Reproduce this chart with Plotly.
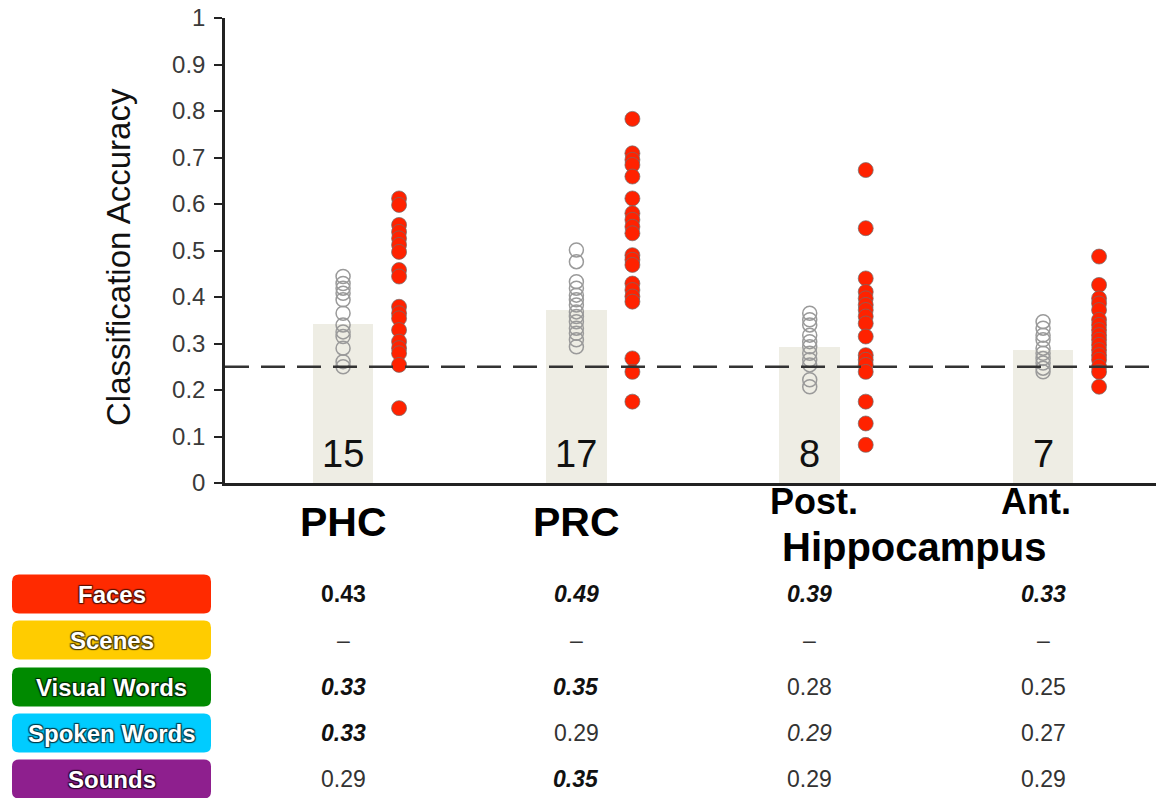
import plotly.graph_objects as go

# ---------------- data ----------------
regions = ["PHC", "PRC", "Post. Hippocampus", "Ant. Hippocampus"]
bar_means = [0.343, 0.371, 0.293, 0.285]
bar_counts = ["15", "17", "8", "7"]

gray_phc = [0.444, 0.429, 0.419, 0.408, 0.394, 0.365, 0.340, 0.325, 0.315, 0.290, 0.261, 0.250]
gray_prc = [0.501, 0.476, 0.433, 0.419, 0.404, 0.394, 0.383, 0.368, 0.358, 0.347, 0.333, 0.322, 0.308, 0.293]
gray_post = [0.365, 0.351, 0.340, 0.318, 0.304, 0.293, 0.279, 0.265, 0.254, 0.222, 0.207]
gray_ant = [0.347, 0.333, 0.318, 0.308, 0.290, 0.279, 0.268, 0.258, 0.247, 0.239]

red_phc = [0.612, 0.598, 0.555, 0.540, 0.526, 0.512, 0.497, 0.458, 0.444, 0.379, 0.365, 0.354,
           0.329, 0.304, 0.290, 0.279, 0.254, 0.161]
red_prc = [0.783, 0.709, 0.695, 0.684, 0.659, 0.612, 0.580, 0.566, 0.551, 0.537, 0.490, 0.480,
           0.469, 0.429, 0.415, 0.401, 0.390, 0.268, 0.239, 0.175]
red_post = [0.673, 0.548, 0.440, 0.411, 0.397, 0.383, 0.372, 0.358, 0.343, 0.315, 0.275, 0.265,
            0.254, 0.239, 0.175, 0.128, 0.082]
red_ant = [0.487, 0.426, 0.397, 0.386, 0.372, 0.351, 0.340, 0.329, 0.318, 0.308, 0.297, 0.286,
           0.275, 0.265, 0.250, 0.239, 0.207]

chance_level = 0.25
y_ticks = [0, 0.1, 0.2, 0.3, 0.4, 0.5, 0.6, 0.7, 0.8, 0.9, 1]
y_tick_labels = ["0", "0.1", "0.2", "0.3", "0.4", "0.5", "0.6", "0.7", "0.8", "0.9", "1"]

table_rows = ["Faces", "Scenes", "Visual Words", "Spoken Words", "Sounds"]
row_colors = ["#FF2A00", "#FFCC00", "#008A00", "#00CCFF", "#8E1F8E"]
row_outline = ["#5a1000", "#4e3e00", "#002a00", "#003e4c", "#2d062d"]
table_values = [
    ["0.43", "0.49", "0.39", "0.33"],
    ["–", "–", "–", "–"],
    ["0.33", "0.35", "0.28", "0.25"],
    ["0.33", "0.29", "0.29", "0.27"],
    ["0.29", "0.35", "0.29", "0.29"],
]
# style: "b" bold, "bi" bold italic, "i" italic, "" normal
table_styles = [
    ["b", "bi", "bi", "bi"],
    ["", "", "", ""],
    ["bi", "bi", "", ""],
    ["bi", "", "i", ""],
    ["", "bi", "", ""],
]

# ---------------- layout geometry (pixels) ----------------
W, H = 1156, 798
L, R, T, B = 225, 0, 18, 315
PW, PH = W - L - R, H - T - B
FONT = "Arial, Liberation Sans, sans-serif"


def px_x(p):
    return (p - L) / PW


def px_y(p):
    return (H - B - p) / PH


xs = [0, 1, 2, 3]
red_off = 0.24

fig = go.Figure()
fig.add_trace(go.Bar(x=xs, y=bar_means, width=0.26, marker=dict(color="#EEEDE4", line=dict(width=0)),
                     showlegend=False, hoverinfo="skip"))

grays = [gray_phc, gray_prc, gray_post, gray_ant]
reds = [red_phc, red_prc, red_post, red_ant]
for i in range(4):
    fig.add_trace(go.Scatter(x=[xs[i]] * len(grays[i]), y=grays[i], mode="markers",
                             marker=dict(size=14, color="rgba(255,255,255,0)",
                                         line=dict(color="#9a9a9a", width=1.5)),
                             showlegend=False))
    fig.add_trace(go.Scatter(x=[xs[i] + red_off] * len(reds[i]), y=reds[i], mode="markers",
                             marker=dict(size=15, color="#FF2200",
                                         line=dict(color="rgba(110,110,110,0.7)", width=1)),
                             showlegend=False))

shapes = []
annotations = []


def ann(**kw):
    kw.setdefault("showarrow", False)
    kw.setdefault("xanchor", "center")
    kw.setdefault("yanchor", "middle")
    annotations.append(kw)


# chance line
shapes.append(dict(type="line", xref="paper", yref="y", x0=0, x1=1, y0=chance_level, y1=chance_level,
                   line=dict(color="#333333", width=2.5, dash="24px,12px"), layer="above"))

# counts in bars
for i in range(4):
    ann(x=xs[i], y=0.062, xref="x", yref="y", text=bar_counts[i],
        font=dict(family=FONT, size=38, color="#111111"))

# y axis title
ann(x=px_x(118), y=px_y(257), xref="paper", yref="paper", text="Classification Accuracy",
    textangle=-90, font=dict(family=FONT, size=33, color="#111111"))

# category labels
lab_font_big = dict(family=FONT, size=41, color="#000000")
lab_font = dict(family=FONT, size=36, color="#000000")
lab_font_h = dict(family=FONT, size=40, color="#000000")
ann(x=xs[0], y=px_y(522), xref="x", yref="paper", text="<b>PHC</b>", font=lab_font_big)
ann(x=xs[1], y=px_y(522), xref="x", yref="paper", text="<b>PRC</b>", font=lab_font_big)
ann(x=xs[2] + 0.02, y=px_y(502), xref="x", yref="paper", text="<b>Post.</b>", font=lab_font)
ann(x=xs[3] - 0.03, y=px_y(502), xref="x", yref="paper", text="<b>Ant.</b>", font=lab_font)
ann(x=(xs[2] + xs[3]) / 2 - 0.055, y=px_y(547), xref="x", yref="paper", text="<b>Hippocampus</b>",
    font=lab_font_h)

# table
row_y = [594, 640, 687, 733, 779]
bx0, bx1, bh, rad = 12, 211, 39, 7


def rrect(x0, y0, x1, y1, r):
    # pixel rounded-rectangle converted to paper coords
    def P(x, y):
        return f"{px_x(x):.5f},{px_y(y):.5f}"
    return (f"M {P(x0 + r, y0)} L {P(x1 - r, y0)} Q {P(x1, y0)} {P(x1, y0 + r)} "
            f"L {P(x1, y1 - r)} Q {P(x1, y1)} {P(x1 - r, y1)} L {P(x0 + r, y1)} "
            f"Q {P(x0, y1)} {P(x0, y1 - r)} L {P(x0, y0 + r)} Q {P(x0, y0)} {P(x0 + r, y0)} Z")


for j, name in enumerate(table_rows):
    cy = row_y[j]
    shapes.append(dict(type="path", xref="paper", yref="paper",
                       path=rrect(bx0, cy - bh / 2, bx1, cy + bh / 2, rad),
                       fillcolor=row_colors[j], line=dict(width=0), layer="above"))
    oc = row_outline[j]
    ann(x=px_x((bx0 + bx1) / 2), y=px_y(cy), xref="paper", yref="paper", text=f"<b>{name}</b>",
        font=dict(family=FONT, size=24, color="white",
                  shadow=f"-1px -1px 1px {oc}, 1px -1px 1px {oc}, -1px 1px 1px {oc}, 1px 1px 1px {oc}"))
    for i in range(4):
        v = table_values[j][i]
        st = table_styles[j][i]
        txt = v
        col = "#333333"
        if "i" in st:
            txt = f"<i>{txt}</i>"
        if "b" in st:
            txt = f"<b>{txt}</b>"
            col = "#111111"
        ann(x=xs[i], y=px_y(cy), xref="x", yref="paper", text=txt,
            font=dict(family=FONT, size=23, color=col))

fig.update_layout(
    width=W, height=H,
    margin=dict(l=L, r=R, t=T, b=B, autoexpand=False),
    paper_bgcolor="white", plot_bgcolor="white",
    shapes=shapes, annotations=annotations,
    bargap=0,
    xaxis=dict(range=[-0.506, 3.484], showticklabels=False, ticks="", showgrid=False, zeroline=False,
               showline=True, linecolor="#222222", linewidth=2.5, fixedrange=True),
    yaxis=dict(range=[0, 1], tickvals=y_ticks, ticktext=y_tick_labels, ticks="outside", ticklen=8,
               tickwidth=1.5, tickcolor="#222222", showgrid=False, zeroline=False, showline=True,
               linecolor="#222222", linewidth=2.5, ticklabelstandoff=4,
               tickfont=dict(family=FONT, size=24, color="#3a3a3a")),
    font=dict(family=FONT),
)

fig.write_html("out.html")
